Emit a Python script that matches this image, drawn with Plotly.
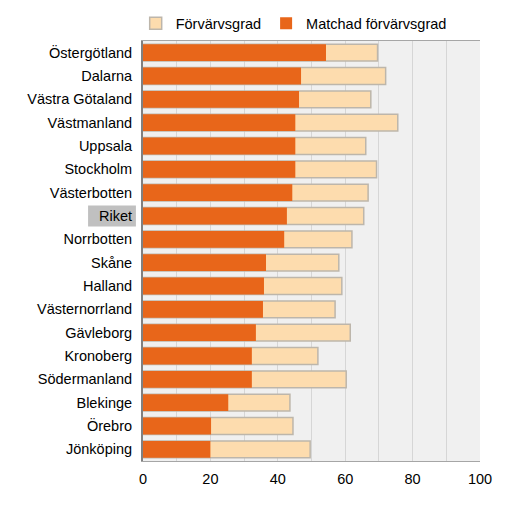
import plotly.graph_objects as go

categories = ["Östergötland", "Dalarna", "Västra Götaland", "Västmanland", "Uppsala",
              "Stockholm", "Västerbotten", "Riket", "Norrbotten", "Skåne", "Halland",
              "Västernorrland", "Gävleborg", "Kronoberg", "Södermanland", "Blekinge",
              "Örebro", "Jönköping"]
forvarvsgrad = [69.6, 72.0, 67.6, 75.6, 66.1, 69.3, 66.8, 65.5, 62.0, 58.1, 59.0,
                57.0, 61.5, 51.9, 60.3, 43.6, 44.5, 49.6]
matchad = [54.3, 46.9, 46.3, 45.2, 45.2, 45.2, 44.3, 42.7, 41.9, 36.5, 35.9,
           35.6, 33.5, 32.3, 32.3, 25.3, 20.2, 20.0]
x_ticks = [0, 20, 40, 60, 80, 100]
highlight = "Riket"

fig = go.Figure()
fig.add_trace(go.Bar(
    y=categories, x=forvarvsgrad, orientation="h", name="Förvärvsgrad",
    marker=dict(color="#FDDCAE", line=dict(color="#BDB6AB", width=1.5)),
    width=0.72,
))
fig.add_trace(go.Bar(
    y=categories, x=matchad, orientation="h", name="Matchad förvärvsgrad",
    marker=dict(color="#E8661A", line=dict(width=0)),
    width=0.72,
))

hi = categories.index(highlight)
fig.add_shape(type="rect", xref="paper", yref="y", x0=-0.163, x1=-0.021,
              y0=hi - 0.45, y1=hi + 0.45, fillcolor="#C0C0C0", line=dict(width=0),
              layer="below")

fig.update_layout(
    barmode="overlay",
    width=515, height=523,
    margin=dict(l=143, r=35, t=41, b=62, autoexpand=False),
    paper_bgcolor="white",
    plot_bgcolor="#F0F0F0",
    font=dict(family="Liberation Sans, Arial, sans-serif", size=14.5, color="#000000"),
    showlegend=True,
    legend=dict(orientation="h", x=-0.0217, y=1.042, xanchor="left", yanchor="middle",
                font=dict(size=14.5), itemwidth=30, bgcolor="rgba(0,0,0,0)",
                traceorder="normal"),
    xaxis=dict(range=[0, 100], tickvals=x_ticks, ticktext=[str(v) for v in x_ticks],
               showgrid=True, gridcolor="#D6D6D6", gridwidth=1,
               minor=dict(dtick=10, showgrid=True, gridcolor="#D6D6D6"),
               zeroline=False, showline=True, linecolor="#A6A6A6",
               mirror=True, tickfont=dict(size=14.5), ticks="", ticklabelstandoff=5,
               automargin=False),
    yaxis=dict(categoryorder="array", categoryarray=categories, autorange="reversed",
               showgrid=False, zeroline=False, showline=True, linecolor="#808080",
               linewidth=2, tickfont=dict(size=14.5), ticks="", ticklabelstandoff=6,
               automargin=False),
)

fig.write_html("out.html", config={"displayModeBar": False},
               post_script="document.body.style.margin='0';")
